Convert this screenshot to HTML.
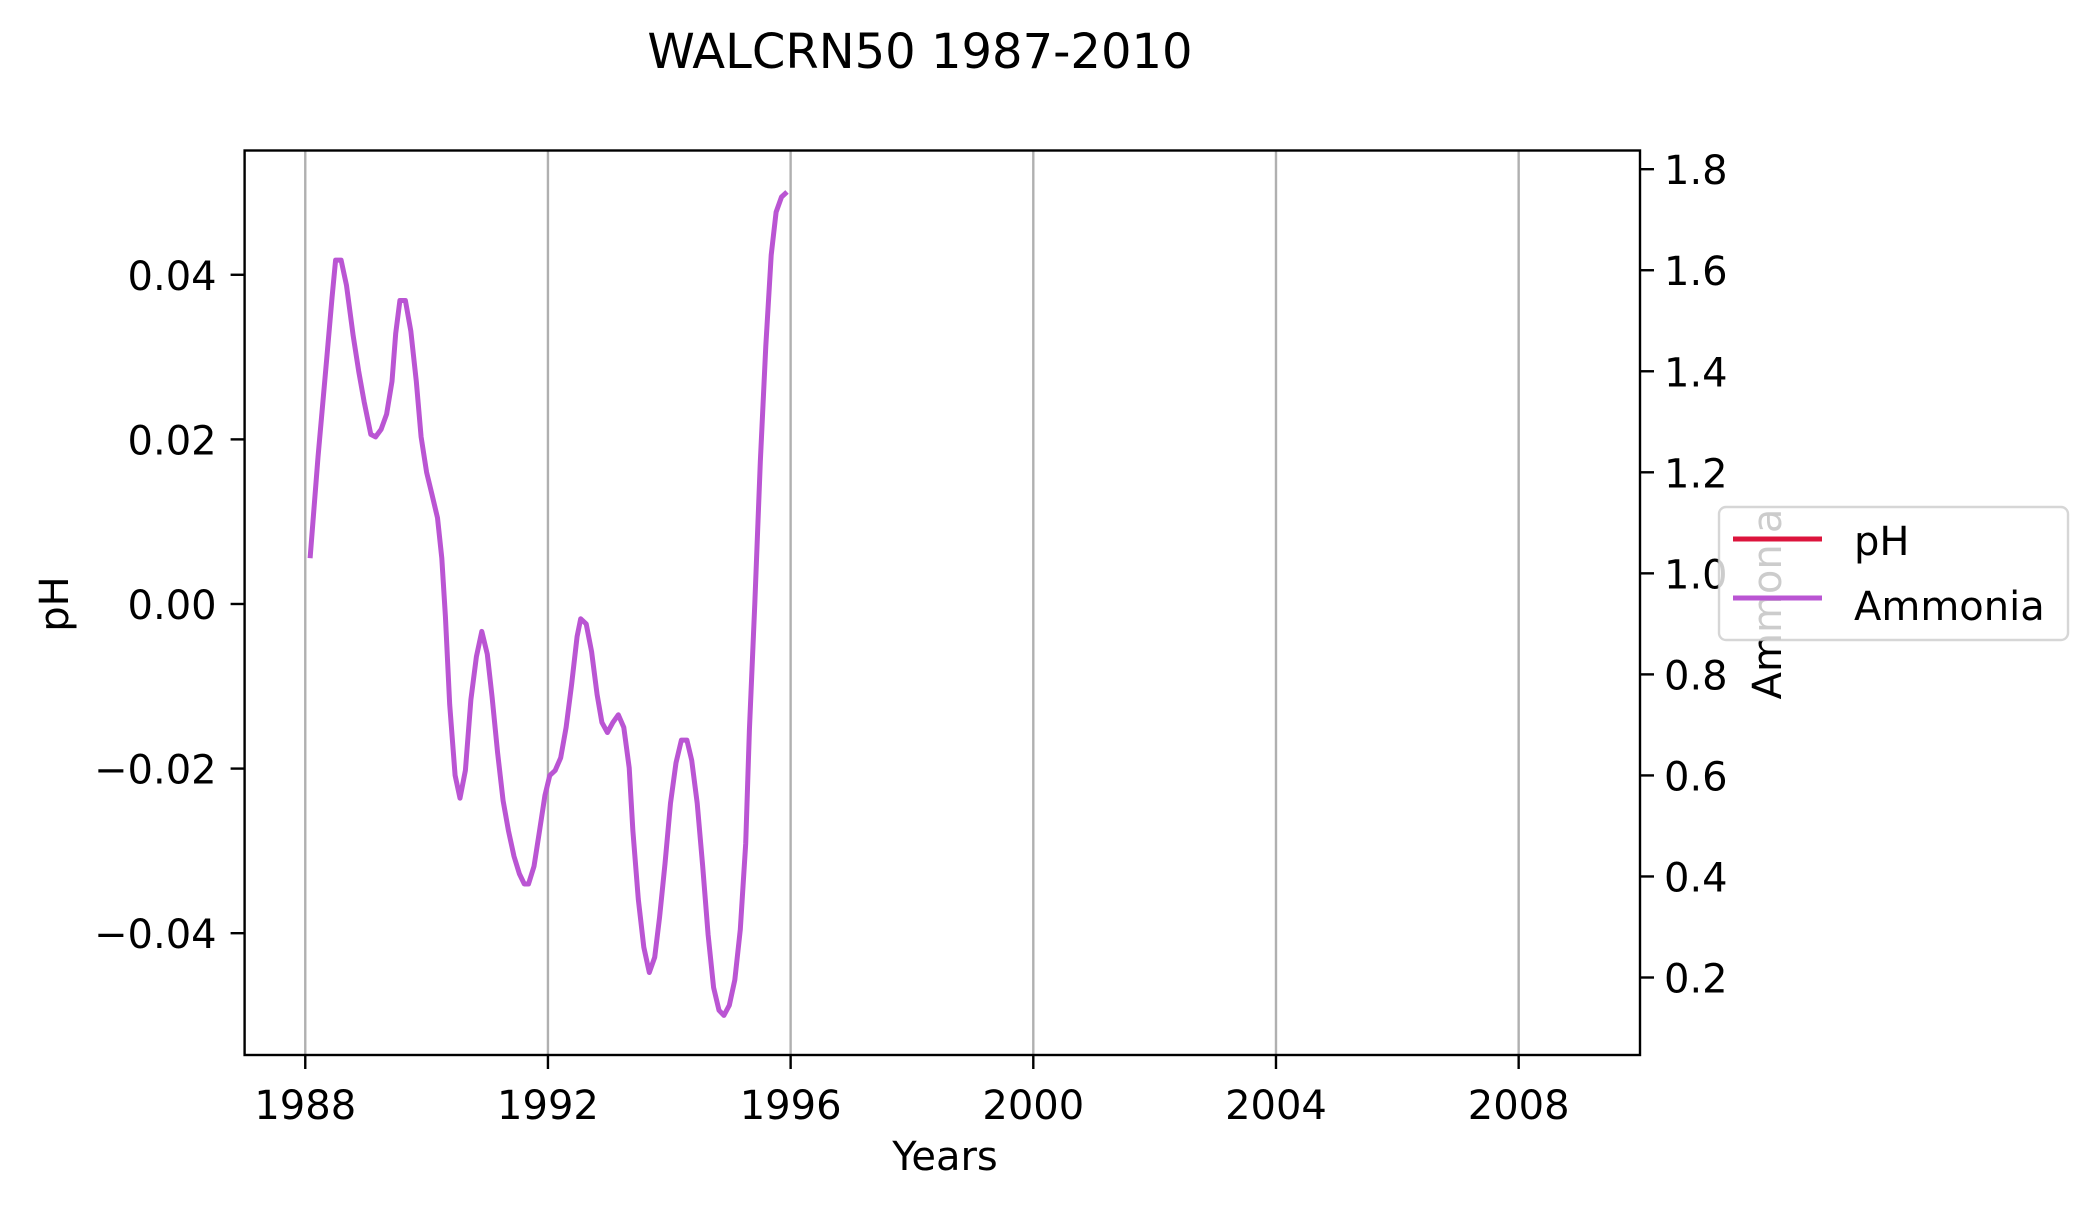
<!DOCTYPE html>
<html><head><meta charset="utf-8"><style>
html,body{margin:0;padding:0;background:#fff;}
svg{display:block;font-family:"DejaVu Sans","Liberation Sans",sans-serif;}
</style></head><body>
<svg id="chart" width="2097" height="1211" viewBox="0 0 2097 1211" xmlns="http://www.w3.org/2000/svg">
<rect width="2097" height="1211" fill="#fff"/>
<text x="920" y="68" font-size="48" text-anchor="middle">WALCRN50 1987-2010</text>
<g id="grid"></g>
<g id="series"></g>
<rect x="244.6" y="150.5" width="1395.4" height="904.5" fill="none" stroke="#000" stroke-width="2.4"/>
<g id="xticks"></g><g id="yticks"></g><g id="y2ticks"></g>
<text x="945" y="1170" font-size="40" text-anchor="middle">Years</text>
<text transform="translate(68,604) rotate(-90)" font-size="40" text-anchor="middle">pH</text>
<text transform="translate(1781,604) rotate(-90)" font-size="40" text-anchor="middle">Ammonia</text>
<g>
<rect x="1719" y="507" width="349" height="133" rx="7" fill="#fff" fill-opacity="0.8" stroke="#ccc" stroke-opacity="0.8" stroke-width="2.4"/>
<line x1="1733" y1="539" x2="1822" y2="539" stroke="#DC143C" stroke-width="5"/>
<text x="1854" y="555" font-size="40">pH</text>
<line x1="1733" y1="598" x2="1822" y2="598" stroke="#BA55D3" stroke-width="5"/>
<text x="1854" y="620" font-size="40">Ammonia</text>
</g>
</svg>
<script>
const years = [1988.08,1988.21,1988.35,1988.44,1988.50,1988.59,1988.68,1988.79,1988.88,1988.97,1989.08,1989.16,1989.25,1989.34,1989.43,1989.49,1989.56,1989.65,1989.74,1989.83,1989.91,1990.00,1990.09,1990.18,1990.25,1990.31,1990.38,1990.47,1990.55,1990.64,1990.73,1990.82,1990.91,1991.00,1991.08,1991.17,1991.26,1991.35,1991.44,1991.53,1991.61,1991.68,1991.77,1991.86,1991.95,1992.03,1992.12,1992.21,1992.30,1992.39,1992.48,1992.54,1992.63,1992.72,1992.81,1992.89,1992.98,1993.07,1993.16,1993.25,1993.34,1993.40,1993.49,1993.58,1993.67,1993.76,1993.84,1993.93,1994.02,1994.11,1994.20,1994.29,1994.37,1994.46,1994.55,1994.64,1994.73,1994.82,1994.90,1994.99,1995.08,1995.17,1995.26,1995.32,1995.41,1995.50,1995.59,1995.68,1995.76,1995.85,1995.94];
const ammonia = [1.03,1.23,1.42,1.545,1.62,1.62,1.57,1.47,1.40,1.34,1.275,1.27,1.285,1.315,1.38,1.475,1.54,1.54,1.48,1.38,1.27,1.20,1.155,1.11,1.03,0.915,0.74,0.60,0.555,0.61,0.75,0.835,0.885,0.84,0.755,0.645,0.55,0.49,0.44,0.405,0.385,0.385,0.42,0.49,0.56,0.60,0.61,0.635,0.695,0.78,0.875,0.91,0.90,0.845,0.76,0.705,0.685,0.705,0.72,0.695,0.615,0.49,0.355,0.26,0.21,0.24,0.32,0.425,0.545,0.625,0.67,0.67,0.63,0.545,0.42,0.285,0.18,0.135,0.125,0.145,0.195,0.295,0.465,0.69,0.94,1.22,1.45,1.63,1.715,1.745,1.755];
const xTickLabels = ["1988","1992","1996","2000","2004","2008"];
const xTickValues = [1988,1992,1996,2000,2004,2008];
const yTickLabels = ["0.04","0.02","0.00","\u22120.02","\u22120.04"];
const yTickValues = [0.04,0.02,0,-0.02,-0.04];
const y2TickLabels = ["1.8","1.6","1.4","1.2","1.0","0.8","0.6","0.4","0.2"];
const y2TickValues = [1.8,1.6,1.4,1.2,1.0,0.8,0.6,0.4,0.2];

const L=244.6,R=1640,T=150.5,B=1055;
const xMin=1987,xMax=2010,yMin=-0.0548,yMax=0.0551,y2Min=0.0466,y2Max=1.837;
const NS="http://www.w3.org/2000/svg";
const sx=v=>L+(v-xMin)/(xMax-xMin)*(R-L);
const sy=v=>B-(v-yMin)/(yMax-yMin)*(B-T);
const sy2=v=>B-(v-y2Min)/(y2Max-y2Min)*(B-T);
function mk(tag,attrs,parent){const e=document.createElementNS(NS,tag);for(const k in attrs)e.setAttribute(k,attrs[k]);parent.appendChild(e);return e;}
const grid=document.getElementById('grid'),xt=document.getElementById('xticks'),yt=document.getElementById('yticks'),y2t=document.getElementById('y2ticks'),ser=document.getElementById('series');
xTickValues.forEach((v,i)=>{
  const x=sx(v);
  const g=mk('line',{x1:x,y1:T,x2:x,y2:B,stroke:'#b0b0b0','stroke-width':2.4},grid);
  
  
  const t=mk('line',{x1:x,y1:B,x2:x,y2:B+14,stroke:'#000','stroke-width':2.4},xt);
  
  
  const l=mk('text',{x:x,y:B+64,'font-size':40,'text-anchor':'middle'},xt);
  l.textContent=xTickLabels[i];
  
  
});
yTickValues.forEach((v,i)=>{
  const y=sy(v);
  const t=mk('line',{x1:L-14,y1:y,x2:L,y2:y,stroke:'#000','stroke-width':2.4},yt);
  
  
  const l=mk('text',{x:L-28,y:y+15,'font-size':40,'text-anchor':'end'},yt);
  l.textContent=yTickLabels[i];
  
  
});
y2TickValues.forEach((v,i)=>{
  const y=sy2(v);
  const t=mk('line',{x1:R,y1:y,x2:R+14,y2:y,stroke:'#000','stroke-width':2.4},y2t);
  
  
  const l=mk('text',{x:R+24,y:y+15,'font-size':40,'text-anchor':'start'},y2t);
  l.textContent=y2TickLabels[i];
  
  
});
const pts=years.map((yr,i)=>sx(yr).toFixed(1)+','+sy2(ammonia[i]).toFixed(1)).join(' ');
const line=mk('polyline',{points:pts,fill:'none',stroke:'#BA55D3','stroke-width':5,'stroke-linejoin':'round'},ser);


</script>
</body></html>
